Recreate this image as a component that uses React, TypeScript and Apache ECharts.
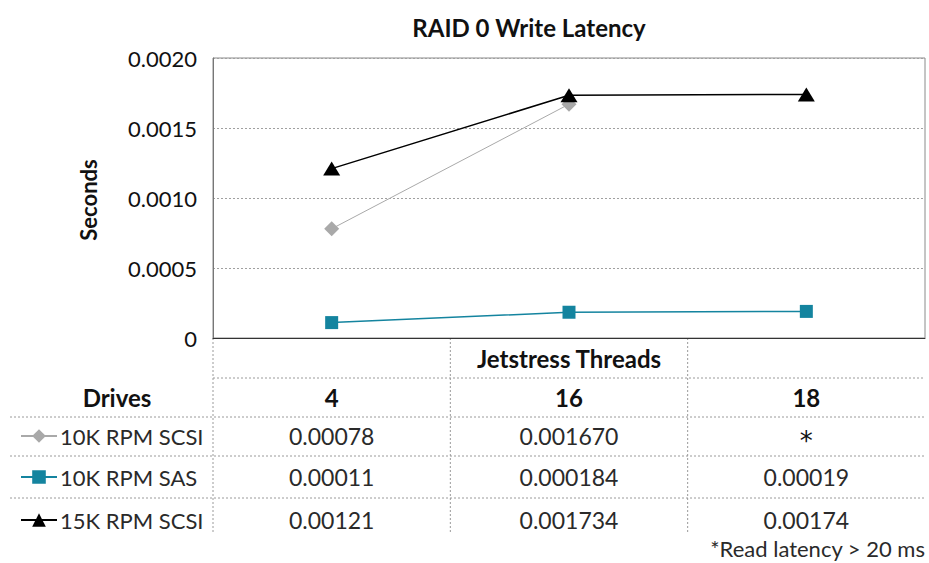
import React, { useEffect, useRef } from "react";
import * as echarts from "echarts";

// Jetstress thread counts (x categories) and the measured write latency per drive type.
const threads = ["4", "16", "18"];
const seriesNames = ["10K RPM SCSI", "10K RPM SAS", "15K RPM SCSI"];
const scsi10kLatency = ["0.00078", "0.001670", "*"];
const sas10kLatency = ["0.00011", "0.000184", "0.00019"];
const scsi15kLatency = ["0.00121", "0.001734", "0.00174"];
const yMin = 0;
const yMax = 0.002;
const yStep = 0.0005;

const FONT = "Lato, 'Liberation Sans', sans-serif";

// Layout (pixels)
const W = 929;
const H = 563;
const GRID_LEFT = 213;
const GRID_TOP = 58;
const GRID_W = 712;
const GRID_H = 280;
const GRID_BOTTOM_Y = GRID_TOP + GRID_H;
const GRID_RIGHT_X = GRID_LEFT + GRID_W;
const COL_W = GRID_W / threads.length;
const ROW_LINES = [378, 417, 456, 498];
const TABLE_END_Y = 533;
const ROW_CENTERS = [436, 477, 520];

const toValue = (s: string) => (s === "*" ? null : Number(s));

const seriesText = [scsi10kLatency, sas10kLatency, scsi15kLatency];
const seriesColors = ["#a9a9a9", "#14849f", "#000000"];
const seriesSymbols = ["diamond", "rect", "triangle"];
const symbolSizes: any[] = [15, 13, [17, 14]];
const lineWidths = [1, 1.5, 1.5];

export default function App() {
  const ref = useRef<HTMLDivElement>(null);

  useEffect(() => {
    if (!ref.current) return;
    const chart = echarts.init(ref.current, undefined, { renderer: "svg" });

    const dotted = { stroke: "#9a9a9a", lineWidth: 1, lineDash: [2, 2] };
    const colCenter = (i: number) => GRID_LEFT + COL_W * (i + 0.5);
    const txt = (text: string, x: number, y: number, font: string, align = "center", fill = "#111") => ({
      type: "text",
      x,
      y,
      silent: true,
      style: { text, font, fill, align, verticalAlign: "middle" },
    });

    const graphics: any[] = [];
    // table grid lines
    [GRID_LEFT, GRID_LEFT + COL_W, GRID_LEFT + 2 * COL_W].forEach((x) => {
      graphics.push({
        type: "line",
        shape: { x1: x, y1: GRID_BOTTOM_Y, x2: x, y2: TABLE_END_Y },
        style: dotted,
        silent: true,
      });
    });
    ROW_LINES.forEach((y, i) => {
      graphics.push({
        type: "line",
        shape: { x1: i === 0 ? GRID_LEFT : 10, y1: y, x2: GRID_RIGHT_X, y2: y },
        style: dotted,
        silent: true,
      });
    });
    // vertical axis title
    graphics.push({
      ...txt("Seconds", 88, 200, `bold 22px ${FONT}`),
      rotation: Math.PI / 2,
    });
    // table headers
    graphics.push(txt("Jetstress Threads", colCenter(1), 358, `bold 24px ${FONT}`));
    graphics.push(txt("Drives", 117, 397, `bold 24px ${FONT}`));
    threads.forEach((t, i) => {
      graphics.push(txt(t, colCenter(i), 397, `bold 24px ${FONT}`));
    });
    // table values
    seriesText.forEach((row, r) => {
      row.forEach((v, i) => {
        if (v === "*") {
          graphics.push(txt(v, colCenter(i), ROW_CENTERS[r] + 5, `26px 'DejaVu Sans', sans-serif`, "center", "#111"));
        } else {
          graphics.push(txt(v, colCenter(i), ROW_CENTERS[r], `23px ${FONT}`, "center", "#2a2a2a"));
        }
      });
    });
    graphics.push(txt("*Read latency > 20 ms", 925, 548, `22px ${FONT}`, "right", "#2a2a2a"));

    const legends = seriesNames.map((name, i) => ({
      data: [name],
      left: 20,
      top: ROW_CENTERS[i] - 11,
      orient: "horizontal",
      padding: 0,
      itemWidth: 36,
      itemHeight: 17,
      itemGap: 0,
      selectedMode: false,
      textStyle: {
        fontFamily: FONT,
        fontSize: 22,
        color: "#2a2a2a",
        lineHeight: 22,
        padding: [0, 0, 0, -2],
      },
    }));

    chart.setOption({
      animation: false,
      backgroundColor: "#fff",
      title: {
        text: "RAID 0 Write Latency",
        left: 524,
        top: 10,
        textAlign: "center",
        textStyle: { fontFamily: FONT, fontSize: 24, fontWeight: "bold", color: "#111" },
      },
      legend: legends,
      grid: {
        left: GRID_LEFT,
        top: GRID_TOP,
        width: GRID_W,
        height: GRID_H,
        show: true,
        borderColor: "#8a8a8a",
        borderWidth: 1,
        containLabel: false,
      },
      xAxis: {
        type: "category",
        data: threads,
        boundaryGap: true,
        axisLine: { show: true, lineStyle: { color: "#333", width: 1 } },
        axisTick: { show: false },
        axisLabel: { show: false },
        splitLine: { show: false },
      },
      yAxis: {
        type: "value",
        min: yMin,
        max: yMax,
        interval: yStep,
        axisLine: { show: true, lineStyle: { color: "#777" } },
        axisTick: { show: false },
        axisLabel: {
          margin: 16,
          fontFamily: FONT,
          fontSize: 22,
          color: "#111",
          formatter: (v: number) => (v === 0 ? "0" : v.toFixed(4)),
        },
        splitLine: { show: true, lineStyle: { color: "#a0a0a0", type: [2, 2], width: 1 } },
      },
      series: seriesNames.map((name, i) => ({
        name,
        type: "line",
        data: seriesText[i].map(toValue),
        symbol: seriesSymbols[i],
        symbolSize: symbolSizes[i],
        showSymbol: true,
        connectNulls: false,
        color: seriesColors[i],
        lineStyle: { color: seriesColors[i], width: lineWidths[i] },
        itemStyle: { color: seriesColors[i] },
        z: 2 + i,
      })),
      graphic: graphics,
    });

    return () => chart.dispose();
  }, []);

  return (
    <div
      ref={ref}
      style={{ position: "fixed", left: 0, top: 0, width: W, height: H, background: "#fff" }}
    />
  );
}
